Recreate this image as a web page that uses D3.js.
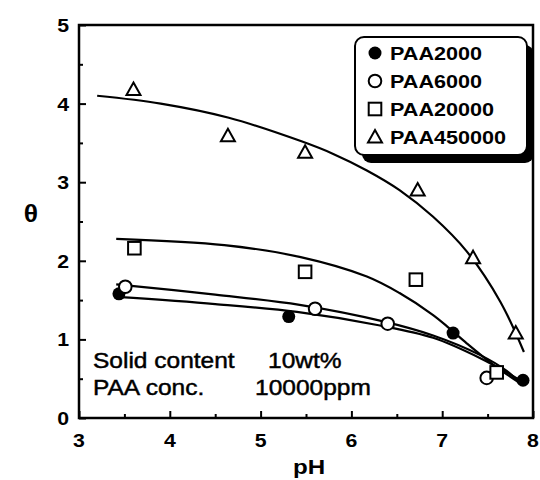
<!DOCTYPE html>
<html>
<head>
<meta charset="utf-8">
<script src="https://cdn.jsdelivr.net/npm/d3@7"></script>
<style>
body { margin: 0; background: #fff; }
svg text { font-family: "Liberation Sans", Arial, sans-serif; fill: #000; }
</style>
</head>
<body>
<svg width="540" height="480"></svg>
<script>
// tick labels
var x_ticks = [3, 4, 5, 6, 7, 8]
var y_ticks = [0, 1, 2, 3, 4, 5]

// measured points
var series_names = ["PAA2000", "PAA6000", "PAA20000", "PAA450000"]
var ph_2000 = [3.44, 5.31, 7.12, 7.89]
var th_2000 = [1.58, 1.29, 1.08, 0.48]
var ph_6000 = [3.51, 5.60, 6.40, 7.49]
var th_6000 = [1.67, 1.39, 1.20, 0.51]
var ph_20000 = [3.61, 5.49, 6.71, 7.60]
var th_20000 = [2.16, 1.86, 1.76, 0.58]
var ph_450000 = [3.60, 4.64, 5.49, 6.73, 7.34, 7.81]
var th_450000 = [4.18, 3.59, 3.38, 2.90, 2.04, 1.08]

// fitted curves
var fit_ph_2000 = [3.42, 4.5, 5.4, 6.3, 6.9, 7.42, 7.89]
var fit_th_2000 = [1.54, 1.45, 1.35, 1.18, 1.02, 0.76, 0.46]
var fit_ph_6000 = [3.41, 4.5, 5.43, 6.35, 6.9, 7.42, 7.71, 7.88]
var fit_th_6000 = [1.70, 1.57, 1.44, 1.23, 1.05, 0.80, 0.60, 0.42]
var fit_ph_20000 = [3.41, 4.6, 5.43, 6.17, 6.53, 6.9, 7.08, 7.27, 7.56, 7.86]
var fit_th_20000 = [2.28, 2.20, 2.05, 1.80, 1.59, 1.31, 1.14, 0.95, 0.68, 0.44]
var fit_ph_450000 = [3.2, 3.9, 4.65, 5.45, 5.8, 6.17, 6.53, 6.9, 7.27, 7.64, 7.9]
var fit_th_450000 = [4.10, 4.00, 3.82, 3.52, 3.36, 3.15, 2.90, 2.56, 2.12, 1.48, 0.84]

var note_left = ["Solid content", "PAA conc."]
var note_right = ["10wt%", "10000ppm"]
var note_right_x = [268, 255]

var svg = d3.select("svg")
var x = d3.scaleLinear().domain([3, 8]).range([79, 533])
var y = d3.scaleLinear().domain([0, 5]).range([418, 25])

function zip(a, b){
    return a.map(function(v, i){ return {ph: v, th: b[i]} })
}

var sets = [
  {name: series_names[0], shape: "fcircle", pts: zip(ph_2000, th_2000), fit: zip(fit_ph_2000, fit_th_2000)},
  {name: series_names[1], shape: "ocircle", pts: zip(ph_6000, th_6000), fit: zip(fit_ph_6000, fit_th_6000)},
  {name: series_names[2], shape: "square", pts: zip(ph_20000, th_20000), fit: zip(fit_ph_20000, fit_th_20000)},
  {name: series_names[3], shape: "triangle", pts: zip(ph_450000, th_450000), fit: zip(fit_ph_450000, fit_th_450000)}
]

function draw_marker(g, shape, cx, cy){
    if (shape == "fcircle"){
        g.append("circle").attr("cx", cx).attr("cy", cy).attr("r", 6.5)
         .attr("fill", "#000")
    } else if (shape == "ocircle"){
        g.append("circle").attr("cx", cx).attr("cy", cy).attr("r", 6.3)
         .attr("fill", "#fff").attr("stroke", "#000").attr("stroke-width", 2)
    } else if (shape == "square"){
        g.append("rect").attr("x", cx - 6.3).attr("y", cy - 6.3)
         .attr("width", 12.6).attr("height", 12.6)
         .attr("fill", "#fff").attr("stroke", "#000").attr("stroke-width", 2)
    } else {
        g.append("path")
         .attr("d", "M" + cx + "," + (cy - 7) + "L" + (cx + 7) + "," + (cy + 5.5) + "L" + (cx - 7) + "," + (cy + 5.5) + "Z")
         .attr("fill", "#fff").attr("stroke", "#000").attr("stroke-width", 2)
    }
}

// stretched text, the scan is a bit wider than Arial
function label(g, tx, ty, txt, size, bold, anchor, sx){
    return g.append("text")
      .attr("transform", "translate(" + tx + "," + ty + ") scale(" + sx + ",1)")
      .attr("text-anchor", anchor)
      .attr("font-size", size)
      .attr("font-weight", bold ? "bold" : "normal")
      .text(txt)
}

/* fitted curves */
var line = d3.line()
    .x(function(d){ return x(d.ph) })
    .y(function(d){ return y(d.th) })
    .curve(d3.curveCatmullRom.alpha(0.5))

svg.append("g").attr("class", "curves")
  .selectAll("path")
  .data(sets)
  .enter()
  .append("path")
  .attr("d", function(d){ return line(d.fit) })
  .attr("fill", "none")
  .attr("stroke", "#000")
  .attr("stroke-width", 2.2)

/* markers */
var mk = svg.append("g").attr("class", "markers")
for (s of sets){
    for (p of s.pts){
        draw_marker(mk, s.shape, x(p.ph), y(p.th))
    }
}

/* frame and ticks */
var frame = svg.append("g").attr("class", "frame")
frame.append("rect")
  .attr("x", x(3)).attr("y", y(5))
  .attr("width", x(8) - x(3)).attr("height", y(0) - y(5))
  .attr("fill", "none").attr("stroke", "#000").attr("stroke-width", 2.5)

var x_axis = d3.axisBottom(x).tickValues(d3.range(3, 8.01, 0.5)).tickFormat("")
var g_x = frame.append("g").attr("transform", "translate(0," + y(0) + ")").call(x_axis)
g_x.select(".domain").remove()
g_x.selectAll(".tick line")
  .attr("y2", function(d){ return d % 1 == 0 ? -7 : -4 })
  .attr("stroke-width", 2)

var y_axis = d3.axisLeft(y).tickValues(d3.range(0, 5.01, 0.5)).tickFormat("")
var g_y = frame.append("g").attr("transform", "translate(" + x(3) + ",0)").call(y_axis)
g_y.select(".domain").remove()
g_y.selectAll(".tick line")
  .attr("x2", function(d){ return d % 1 == 0 ? 7 : 4 })
  .attr("stroke-width", 2)

/* tick labels */
var tl = svg.append("g").attr("class", "tick_labels")
for (t of x_ticks){
    label(tl, x(t), 447, t, 19, true, "middle", 1.12)
}
for (t of y_ticks){
    label(tl, 69, y(t) + 7, t, 19, true, "end", 1.12)
}

/* axis titles */
label(svg, 309, 474, "pH", 21, true, "middle", 1.15)
label(svg, 31, 222, "θ", 23, true, "middle", 1.15)

/* note */
var note = svg.append("g").attr("class", "note")
note_left.forEach(function(t, i){
    var by = 368 + i * 27
    label(note, 93, by, t, 21.5, false, "start", 1.14)
      .attr("stroke", "#000").attr("stroke-width", 0.45)
    label(note, note_right_x[i], by, note_right[i], 21.5, false, "start", 1.14)
      .attr("stroke", "#000").attr("stroke-width", 0.45)
})

/* legend */
var lg = svg.append("g").attr("class", "legend")
lg.append("rect")
  .attr("x", 362).attr("y", 45).attr("width", 172).attr("height", 118)
  .attr("rx", 9).attr("fill", "#000")
lg.append("rect")
  .attr("x", 355).attr("y", 37).attr("width", 172).attr("height", 118)
  .attr("rx", 9).attr("fill", "#fff").attr("stroke", "#000").attr("stroke-width", 2)

sets.forEach(function(s, i){
    var ly = 53 + i * 28
    draw_marker(lg, s.shape, 375, ly)
    label(lg, 390, ly + 6.5, s.name, 18, true, "start", 1.2)
})
</script>
</body>
</html>
